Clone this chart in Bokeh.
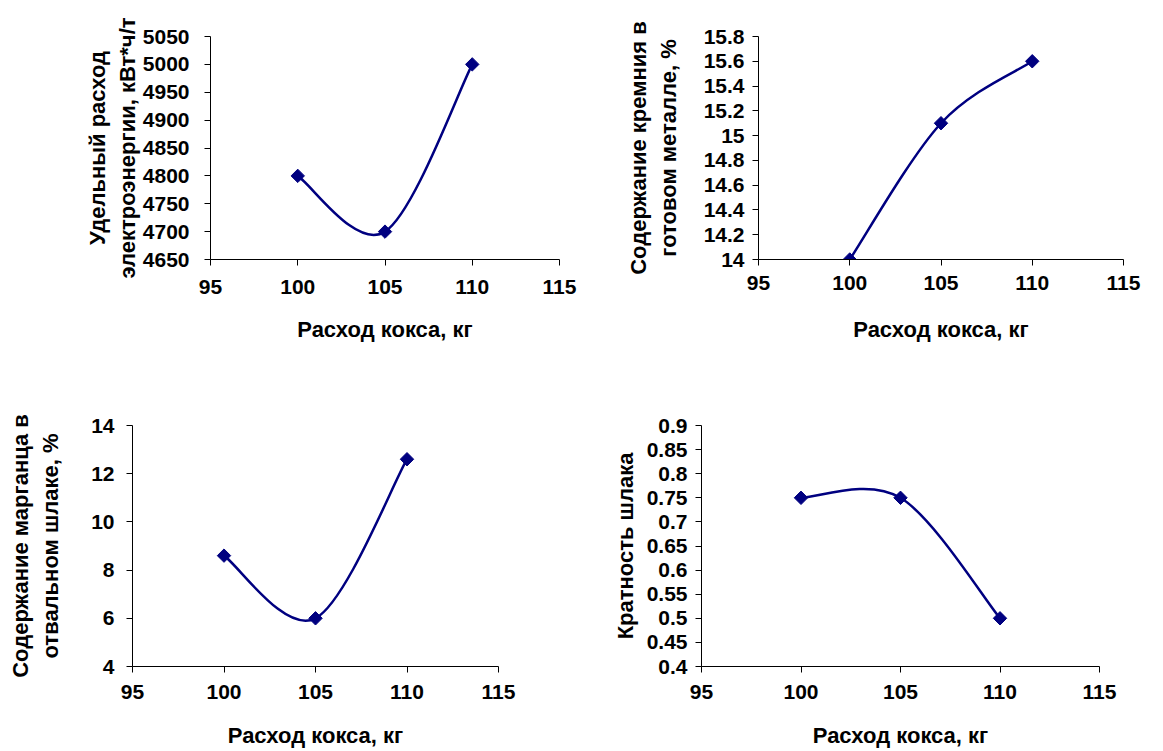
from bokeh.plotting import figure
from bokeh.layouts import column, row
from bokeh.models import Range1d, FixedTicker, CustomJSTickFormatter
from bokeh.embed import file_html
from bokeh.resources import INLINE
import numpy as np

# ---- data ----
coke = [100, 105, 110]
energy = [4800, 4700, 5000]
silicon = [14.0, 15.1, 15.6]
manganese = [8.6, 6.0, 12.6]
slag_ratio = [0.75, 0.75, 0.5]

x_ticks = [95, 100, 105, 110, 115]
energy_ticks = [4650, 4700, 4750, 4800, 4850, 4900, 4950, 5000, 5050]
silicon_ticks = [14, 14.2, 14.4, 14.6, 14.8, 15, 15.2, 15.4, 15.6, 15.8]
manganese_ticks = [4, 6, 8, 10, 12, 14]
slag_ticks = [0.4, 0.45, 0.5, 0.55, 0.6, 0.65, 0.7, 0.75, 0.8, 0.85, 0.9]

x_title = "Расход кокса, кг"
energy_title = "Удельный расход\nэлектроэнергии, кВт*ч/т"
silicon_title = "Содержание кремния в\nготовом металле, %"
manganese_title = "Содержание марганца в\nотвальном шлаке, %"
slag_title = "Кратность шлака"

FONT = "Liberation Sans"
NAVY = "#000080"


def smooth_segments(xs, ys):
    """Catmull-Rom style smoothing (like Excel's smoothed line) -> bezier control points."""
    n = len(xs)
    x0, y0, x1, y1, cx0, cy0, cx1, cy1 = [], [], [], [], [], [], [], []
    for i in range(n - 1):
        ip = max(i - 1, 0)
        inx = min(i + 2, n - 1)
        x0.append(xs[i]); y0.append(ys[i])
        x1.append(xs[i + 1]); y1.append(ys[i + 1])
        cx0.append(xs[i] + (xs[i + 1] - xs[ip]) / 6.0)
        cy0.append(ys[i] + (ys[i + 1] - ys[ip]) / 6.0)
        cx1.append(xs[i + 1] - (xs[inx] - xs[i]) / 6.0)
        cy1.append(ys[i + 1] - (ys[inx] - ys[i]) / 6.0)
    return dict(x0=x0, y0=y0, x1=x1, y1=y1, cx0=cx0, cy0=cy0, cx1=cx1, cy1=cy1)


def make_panel(ys, yticks, ytitle, width, height, left, right, top, bottom,
               ytick_standoff, ytitle_standoff, xtick_standoff, xtitle_standoff):
    p = figure(width=width, height=height, output_backend="svg", toolbar_location=None,
               x_range=Range1d(95, 115), y_range=Range1d(yticks[0], yticks[-1]),
               min_border_left=left, min_border_right=right,
               min_border_top=top, min_border_bottom=bottom)
    p.outline_line_color = None
    p.xgrid.visible = False
    p.ygrid.visible = False
    p.background_fill_color = "white"
    p.border_fill_color = "white"

    seg = smooth_segments(coke, ys)
    p.bezier(x0="x0", y0="y0", x1="x1", y1="y1", cx0="cx0", cy0="cy0",
             cx1="cx1", cy1="cy1", source=seg, line_color=NAVY, line_width=2.5)
    p.scatter(coke, ys, marker="square", size=9.5, angle=np.pi / 4,
              fill_color=NAVY, line_color=NAVY)

    fmt = CustomJSTickFormatter(code="return String(parseFloat(tick.toFixed(3)));")
    for ax, ticks in ((p.xaxis[0], x_ticks), (p.yaxis[0], yticks)):
        ax.ticker = FixedTicker(ticks=ticks, minor_ticks=[])
        ax.formatter = fmt
        ax.axis_line_color = "black"
        ax.axis_line_width = 1
        ax.major_tick_line_color = "black"
        ax.major_tick_in = 0
        ax.major_tick_out = 6
        ax.minor_tick_line_color = None
        ax.major_label_text_font = FONT
        ax.major_label_text_font_style = "bold"
        ax.major_label_text_font_size = "21px"
        ax.major_label_text_color = "black"
        ax.axis_label_text_font = FONT
        ax.axis_label_text_font_style = "bold"
        ax.axis_label_text_font_size = "22px"
        ax.axis_label_text_color = "black"
        ax.axis_label_text_line_height = 1.2
    p.xaxis.axis_label = x_title
    p.yaxis.axis_label = ytitle
    p.yaxis.major_label_standoff = ytick_standoff
    p.yaxis.axis_label_standoff = ytitle_standoff
    p.xaxis.major_label_standoff = xtick_standoff
    p.xaxis.axis_label_standoff = xtitle_standoff
    return p


p1 = make_panel(energy, energy_ticks, energy_title, 618, 370, 210, 59, 35, 108,
                15, 0, 14, 20)
p2 = make_panel(silicon, silicon_ticks, silicon_title, 545, 370, 140, 40, 36, 111,
                8, 20, 10, 24)
p3 = make_panel(manganese, manganese_ticks, manganese_title, 608, 381, 132, 110, 55, 85,
                12, 25, 12, 21)
p4 = make_panel(slag_ratio, slag_ticks, slag_title, 555, 381, 93, 64, 55, 83,
                8, 6, 12, 21)

layout = column(row(p1, p2), row(p3, p4))

with open("out.html", "w") as f:
    f.write(file_html(layout, INLINE))
